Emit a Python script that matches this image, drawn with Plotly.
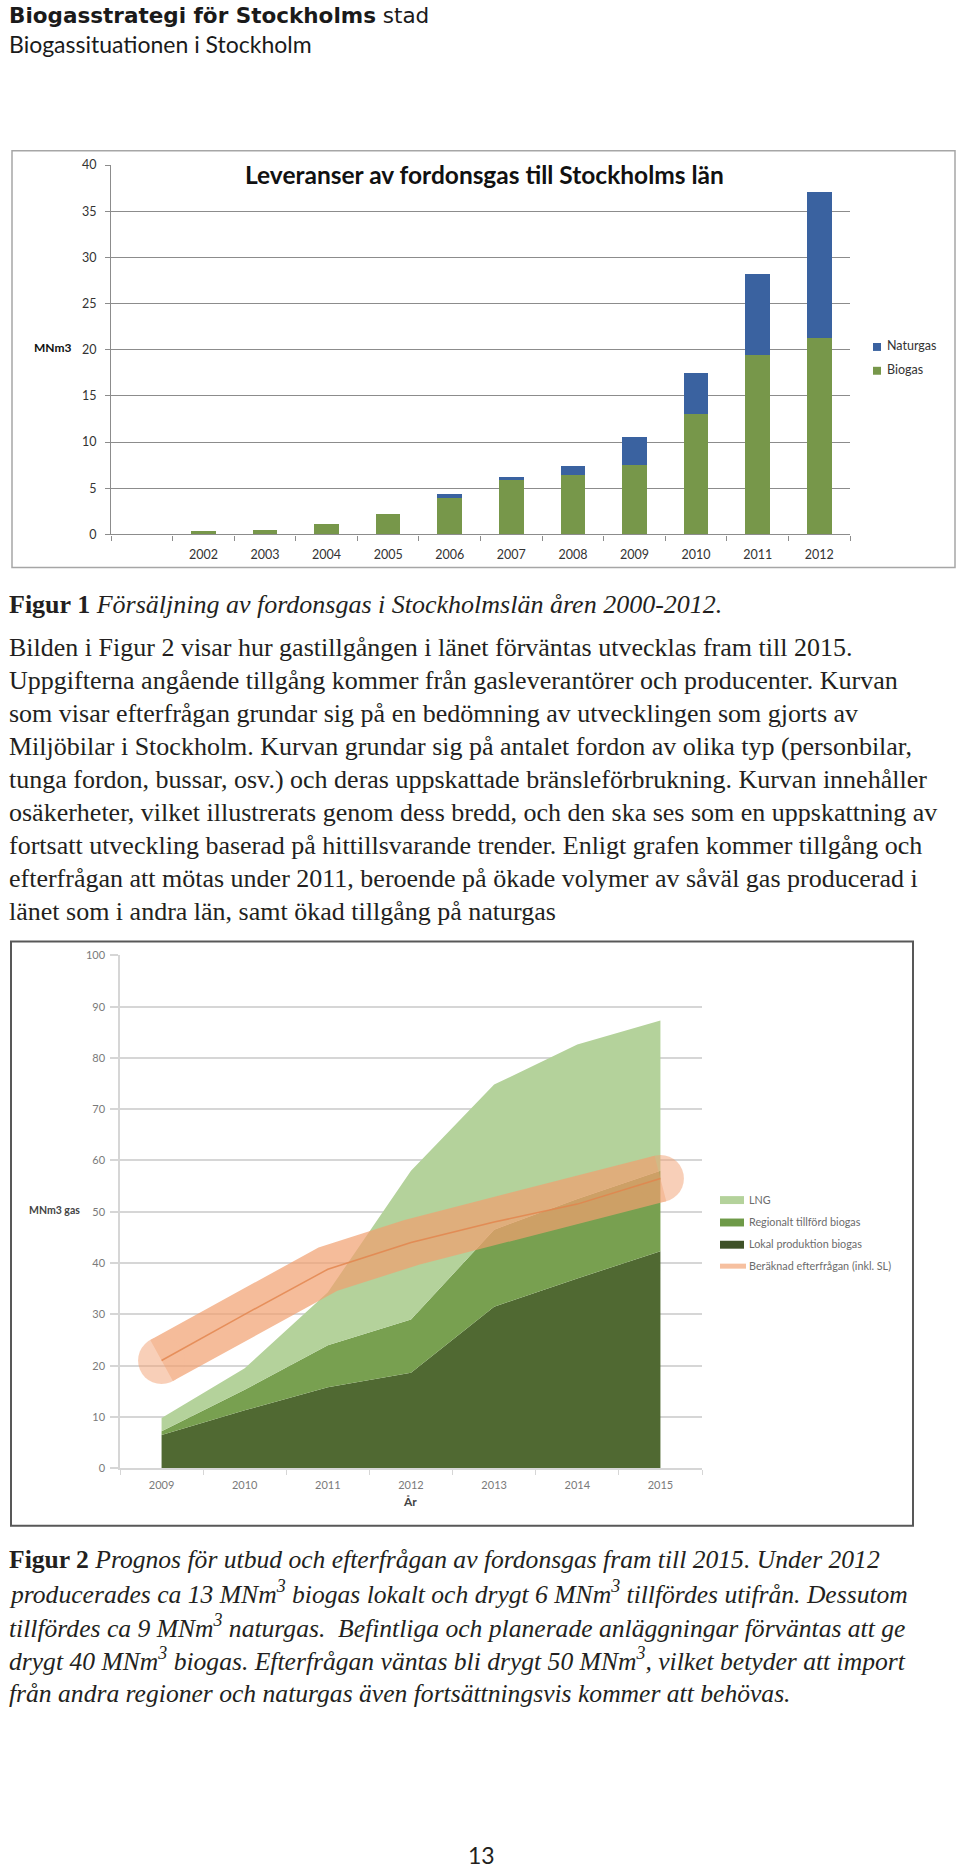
import plotly.graph_objects as go

W, H = 960, 1874

# ---------------- Chart 1 data ----------------
years1 = [2002, 2003, 2004, 2005, 2006, 2007, 2008, 2009, 2010, 2011, 2012]
year1_labels = [str(y) for y in years1]
biogas = [0.35, 0.5, 1.1, 2.2, 4.0, 5.95, 6.4, 7.5, 13.0, 19.4, 21.3]
naturgas = [0.0, 0.0, 0.0, 0.0, 0.4, 0.3, 1.0, 3.05, 4.5, 8.8, 15.8]

# ---------------- Chart 2 data ----------------
years2 = [2009, 2010, 2011, 2012, 2013, 2014, 2015]
year2_labels = [str(y) for y in years2]
lokal = [6.5, 11.3, 15.8, 18.6, 31.5, 37.0, 42.3]
regionalt = [0.7, 4.0, 8.2, 10.4, 15.0, 15.5, 15.7]
lng = [2.6, 4.2, 10.3, 29.0, 28.3, 30.1, 29.3]
efterfragan = [21.0, 30.0, 38.8, 44.0, 48.0, 51.5, 56.5]

# ---------------- Text ----------------
header1 = "<b>Biogasstrategi för Stockholms</b> stad"
header2 = "Biogassituationen i Stockholm"
chart1_title = "<b>Leveranser av fordonsgas till Stockholms län</b>"
fig1_caption = "<b>Figur 1</b> <i>Försäljning av fordonsgas i Stockholmslän åren 2000-2012.</i>"
body_lines = [
    "Bilden i Figur 2 visar hur gastillgången i länet förväntas utvecklas fram till 2015.",
    "Uppgifterna angående tillgång kommer från gasleverantörer och producenter. Kurvan",
    "som visar efterfrågan grundar sig på en bedömning av utvecklingen som gjorts av",
    "Miljöbilar i Stockholm. Kurvan grundar sig på antalet fordon av olika typ (personbilar,",
    "tunga fordon, bussar, osv.) och deras uppskattade bränsleförbrukning. Kurvan innehåller",
    "osäkerheter, vilket illustrerats genom dess bredd, och den ska ses som en uppskattning av",
    "fortsatt utveckling baserad på hittillsvarande trender. Enligt grafen kommer tillgång och",
    "efterfrågan att mötas under 2011, beroende på ökade volymer av såväl gas producerad i",
    "länet som i andra län, samt ökad tillgång på naturgas",
]
fig2_lines = [
    "<b>Figur 2</b> <i>Prognos för utbud och efterfrågan av fordonsgas fram till 2015. Under 2012</i>",
    "<i>producerades ca 13 MNm<sup>3</sup> biogas lokalt och drygt 6 MNm<sup>3</sup> tillfördes utifrån. Dessutom</i>",
    "<i>tillfördes ca 9 MNm<sup>3</sup> naturgas.  Befintliga och planerade anläggningar förväntas att ge</i>",
    "<i>drygt 40 MNm<sup>3</sup> biogas. Efterfrågan väntas bli drygt 50 MNm<sup>3</sup>, vilket betyder att import</i>",
    "<i>från andra regioner och naturgas även fortsättningsvis kommer att behövas.</i>",
]
legend1 = ["Naturgas", "Biogas"]
legend2 = ["LNG", "Regionalt tillförd biogas", "Lokal produktion biogas", "Beräknad efterfrågan (inkl. SL)"]
page_no = "13"

# ---------------- Styles ----------------
GREEN = "#77974a"
BLUE = "#3a62a0"
C_LNG = "#b4d29b"
C_REG = "#78a050"
C_LOK = "#506932"
C_ORANGE = "#f2a070"
C_THIN = "#e3844c"
SERIF = "Liberation Serif"
SANS = "Lato"


def px(x):
    return x / W


def py(y):
    return 1 - y / H


fig = go.Figure()

# Chart 1 bars
fig.add_trace(go.Bar(x=years1, y=biogas, name=legend1[1], marker=dict(color=GREEN, line=dict(width=0)),
                     xaxis="x", yaxis="y", showlegend=False))
fig.add_trace(go.Bar(x=years1, y=naturgas, name=legend1[0], marker=dict(color=BLUE, line=dict(width=0)),
                     xaxis="x", yaxis="y", showlegend=False))

# Chart 2 stacked areas
for vals, col, nm in [(lokal, C_LOK, legend2[2]), (regionalt, C_REG, legend2[1]), (lng, C_LNG, legend2[0])]:
    fig.add_trace(go.Scatter(x=years2, y=vals, name=nm, stackgroup="supply", mode="lines",
                             line=dict(width=0, color=col), fillcolor=col,
                             xaxis="x2", yaxis="y2", showlegend=False, hoverinfo="skip"))

# Demand band (thick translucent line with round ends) and centre line
band_sizes = [47 if i in (0, len(years2) - 1) else 0 for i in range(len(years2))]
fig.add_trace(go.Scatter(x=years2, y=efterfragan, mode="lines+markers", name=legend2[3],
                         line=dict(color=C_ORANGE, width=47),
                         marker=dict(size=band_sizes, color=C_ORANGE, line=dict(width=0)),
                         opacity=0.7, xaxis="x2", yaxis="y2", showlegend=False, hoverinfo="skip"))
fig.add_trace(go.Scatter(x=years2, y=efterfragan, mode="lines", line=dict(color=C_THIN, width=1.5),
                         opacity=0.8, xaxis="x2", yaxis="y2", showlegend=False, hoverinfo="skip"))

shapes = []
annotations = []

# Chart boxes
shapes.append(dict(type="rect", xref="paper", yref="paper", x0=px(12), x1=px(955), y0=py(564), y1=py(144),
                   line=dict(color="#a6a6a6", width=1.5), layer="below"))
shapes.append(dict(type="rect", xref="paper", yref="paper", x0=px(11), x1=px(913), y0=py(1530), y1=py(941),
                   line=dict(color="#585858", width=2), layer="below"))

# Chart 1 legend
for i, (lab, col) in enumerate([(legend1[0], BLUE), (legend1[1], GREEN)]):
    yc = 341.7 + 24 * i
    shapes.append(dict(type="rect", xref="paper", yref="paper", x0=px(873), x1=px(881),
                       y0=py(yc + 4), y1=py(yc - 4), fillcolor=col, line=dict(width=0)))
    annotations.append(dict(text=lab, x=px(885), y=py(yc - 1), xanchor="left", yanchor="middle",
                            font=dict(family=SANS, size=12.5, color="#333333")))

# Chart 2 legend
leg2_cols = [C_LNG, "#6e9a48", "#3f5228", "#f6c0a0"]
for i, (lab, col) in enumerate(zip(legend2, leg2_cols)):
    yc = [1201.7, 1224.3, 1246.7, 1268.3][i]
    if i < 3:
        shapes.append(dict(type="rect", xref="paper", yref="paper", x0=px(720), x1=px(744),
                           y0=py(yc + 4), y1=py(yc - 4), fillcolor=col, line=dict(width=0)))
    else:
        shapes.append(dict(type="line", xref="paper", yref="paper", x0=px(720), x1=px(746),
                           y0=py(yc), y1=py(yc), line=dict(color=col, width=5)))
    annotations.append(dict(text=lab, x=px(746.5), y=py(yc - 1), xanchor="left", yanchor="middle",
                            font=dict(family=SANS, size=10.8, color="#6b6b6b")))

# Chart titles / axis labels
annotations.append(dict(text=chart1_title, x=px(484), y=py(168), xanchor="center", yanchor="middle",
                        font=dict(family=SANS, size=24.5, color="#111111")))
annotations.append(dict(text="<b>MNm3</b>", x=px(52.5), y=py(342), xanchor="center", yanchor="middle",
                        font=dict(family=SANS, size=12, color="#111111")))
annotations.append(dict(text="<b>MNm3 gas</b>", x=px(54), y=py(1212), xanchor="center", yanchor="middle",
                        font=dict(family=SANS, size=10.5, color="#444444")))
annotations.append(dict(text="<b>År</b>", x=px(410), y=py(1506), xanchor="center", yanchor="middle",
                        font=dict(family=SANS, size=12, color="#444444")))

# Page header
annotations.append(dict(text=header1, x=px(7), y=py(8), xanchor="left", yanchor="middle",
                        font=dict(family="DejaVu Sans", size=21.5, color="#1a1a1a")))
annotations.append(dict(text=header2, x=px(7), y=py(36.5), xanchor="left", yanchor="middle",
                        font=dict(family=SANS, size=23, color="#1a1a1a")))

# Figure 1 caption and body
annotations.append(dict(text=fig1_caption, x=px(7), y=py(601), xanchor="left", yanchor="middle",
                        font=dict(family=SERIF, size=26, color="#231f20")))
for i, line in enumerate(body_lines):
    annotations.append(dict(text=line, x=px(7), y=py(645 + 33.2 * i), xanchor="left", yanchor="middle",
                            font=dict(family=SERIF, size=26, color="#231f20")))
for i, line in enumerate(fig2_lines):
    annotations.append(dict(text=line, x=px(7), y=py(1564 + 33.7 * i), xanchor="left", yanchor="middle",
                            font=dict(family=SERIF, size=25.6, color="#231f20")))
annotations.append(dict(text=page_no, x=px(481), y=py(1862), xanchor="center", yanchor="middle",
                        font=dict(family=SANS, size=23, color="#231f20")))

for a in annotations:
    a.update(xref="paper", yref="paper", showarrow=False)

GRID1 = "#8c8c8c"
GRID2 = "#d6d6d6"

fig.update_layout(
    width=W, height=H, margin=dict(l=0, r=0, t=0, b=0),
    paper_bgcolor="white", plot_bgcolor="rgba(0,0,0,0)",
    barmode="stack", bargap=0.6, showlegend=False,
    shapes=shapes, annotations=annotations,
    xaxis=dict(domain=[px(111), px(850)], range=[2000.5, 2012.5], tickmode="array",
               tickvals=years1, ticktext=year1_labels, showgrid=False, zeroline=False,
               showline=True, linecolor=GRID1, linewidth=1.2, ticks="",
               minor=dict(ticks="outside", ticklen=5, tickcolor=GRID1, tickwidth=1,
                          tickmode="linear", tick0=2000.5, dtick=1, showgrid=False),
               tickfont=dict(family=SANS, size=12.5, color="#333333"), ticklabelstandoff=8,
               anchor="y", fixedrange=True),
    yaxis=dict(domain=[py(530.7), py(158.3)], range=[0, 40], dtick=5, showgrid=True,
               gridcolor=GRID1, gridwidth=1, zeroline=False, showline=True, linecolor=GRID1,
               linewidth=1.2, ticks="outside", ticklen=5, tickcolor=GRID1,
               tickfont=dict(family=SANS, size=12.5, color="#333333"), ticklabelstandoff=6,
               anchor="x", fixedrange=True),
    xaxis2=dict(domain=[px(120), px(702)], range=[2008.5, 2015.5], tickmode="array",
                tickvals=years2, ticktext=year2_labels, showgrid=False, zeroline=False,
                showline=True, linecolor=GRID2, linewidth=2, ticks="",
                minor=dict(ticks="outside", ticklen=5, tickcolor=GRID2, tickwidth=1,
                           tickmode="linear", tick0=2008.5, dtick=1, showgrid=False),
                tickfont=dict(family=SANS, size=11, color="#7a7a7a"), ticklabelstandoff=6,
                anchor="y2", fixedrange=True),
    yaxis2=dict(domain=[py(1472), py(955)], range=[0, 100], dtick=10, showgrid=True,
                gridcolor=GRID2, gridwidth=2, zeroline=False, showline=True, linecolor=GRID2,
                linewidth=1.5, ticks="outside", ticklen=8, tickcolor=GRID2, tickwidth=1.5,
                tickfont=dict(family=SANS, size=11, color="#7a7a7a"), ticklabelstandoff=3,
                anchor="x2", fixedrange=True),
)

fig.write_html("out.html", config={"displayModeBar": False, "responsive": False},
               post_script="document.body.style.margin='0px';document.body.style.padding='0px';")
